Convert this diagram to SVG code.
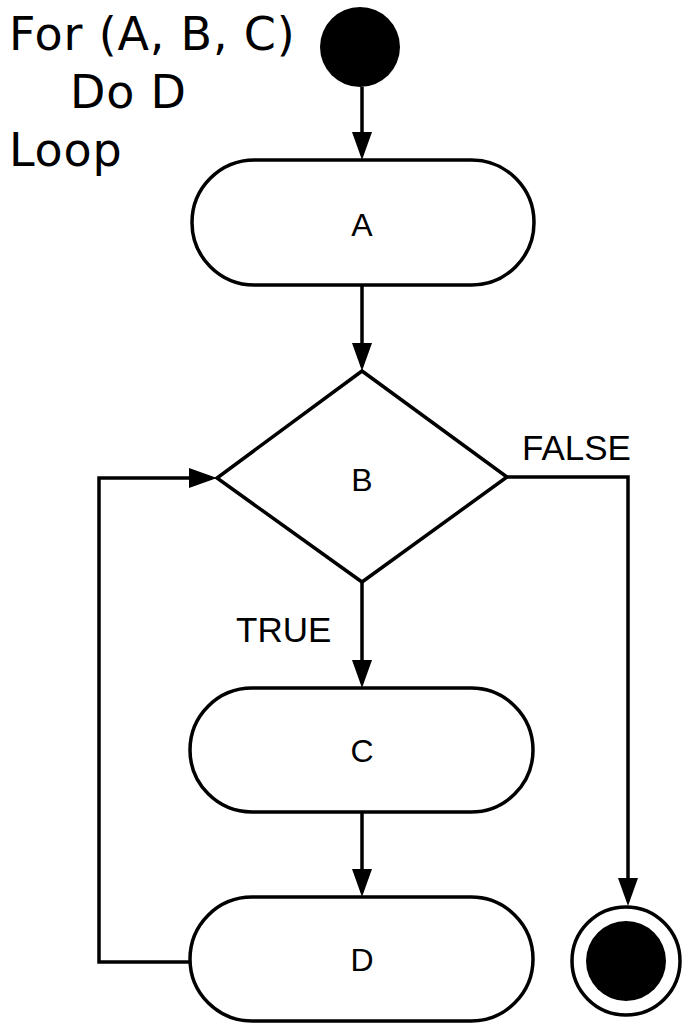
<svg xmlns="http://www.w3.org/2000/svg" width="682" height="1024" viewBox="0 0 682 1024">
  <style>
    .shape { fill: #ffffff; stroke: #000000; stroke-width: 3.5; }
    .conn { fill: none; stroke: #000000; stroke-width: 3.5; marker-end: url(#arrow); }
    .lbl { font-family: "Liberation Sans", Arial, sans-serif; font-size: 32px; fill: #000000; text-anchor: middle; }
    .edge { font-family: "Liberation Sans", Arial, sans-serif; font-size: 35px; fill: #000000; }
    .title { font-family: "DejaVu Sans", Verdana, sans-serif; font-size: 46px; letter-spacing: 0.8px; fill: #000000; }
  </style>
  <defs>
    <marker id="arrow" markerUnits="userSpaceOnUse" markerWidth="28" markerHeight="20" refX="23" refY="10" orient="auto" overflow="visible">
      <path d="M0,0 L28,10 L0,20 z" fill="#000000"/>
    </marker>
  </defs>
  <rect width="682" height="1024" fill="#ffffff"/>

  <g id="note">
    <text class="title" x="9" y="50">For (A, B, C)</text>
    <text class="title" x="70" y="108">Do D</text>
    <text class="title" x="9" y="166">Loop</text>
  </g>

  <g id="connectors">
    <path class="conn" d="M362,87 L362,155"/>
    <path class="conn" d="M362,285 L362,366"/>
    <path class="conn" d="M362,582 L362,683"/>
    <path class="conn" d="M362,812 L362,892"/>
    <path class="conn" d="M507,477 L628,477 L628,901"/>
    <path class="conn" d="M190,962 L99,962 L99,478 L212,478"/>
    <text class="edge" x="522" y="460">FALSE</text>
    <text class="edge" x="236" y="642">TRUE</text>
  </g>

  <g id="start">
    <circle cx="360" cy="47" r="40" fill="#000000"/>
  </g>

  <g id="nodeA">
    <rect class="shape" x="192" y="160" width="342" height="125" rx="62.5" ry="62.5"/>
    <text class="lbl" x="362" y="236">A</text>
  </g>

  <g id="nodeB">
    <polygon class="shape" points="362,371 507,477 362,582 217,478"/>
    <text class="lbl" x="362" y="491">B</text>
  </g>

  <g id="nodeC">
    <rect class="shape" x="190" y="688" width="343" height="124" rx="62" ry="62"/>
    <text class="lbl" x="362" y="762">C</text>
  </g>

  <g id="nodeD">
    <rect class="shape" x="190" y="897" width="343" height="124" rx="62" ry="62"/>
    <text class="lbl" x="362" y="971">D</text>
  </g>

  <g id="end">
    <circle cx="626" cy="961" r="54" fill="#ffffff" stroke="#000000" stroke-width="3.5"/>
    <circle cx="626" cy="961" r="40" fill="#000000"/>
  </g>
</svg>
